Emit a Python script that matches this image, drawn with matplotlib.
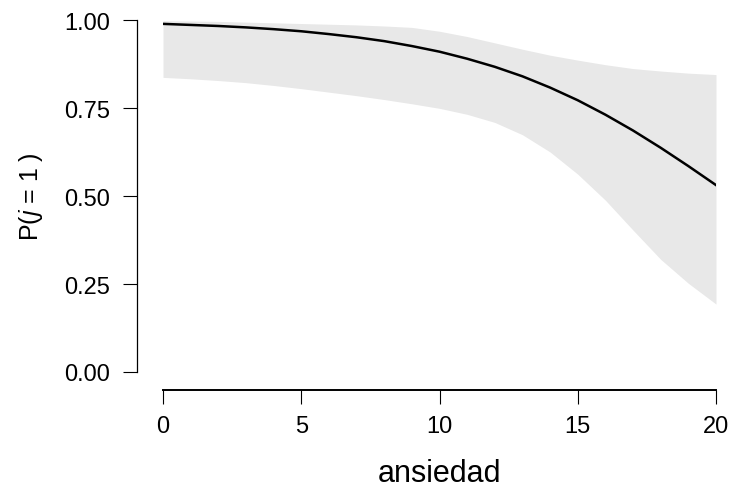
import matplotlib
matplotlib.use("Agg")
import matplotlib.pyplot as plt

plt.rcParams['font.family'] = ['Liberation Sans', 'DejaVu Sans']
plt.rcParams['mathtext.fontset'] = 'custom'
plt.rcParams['mathtext.rm'] = 'Liberation Sans'
plt.rcParams['mathtext.it'] = 'Liberation Sans:italic'

ansiedad = [0, 1, 2, 3, 4, 5, 6, 7, 8, 9, 10, 11, 12, 13, 14, 15, 16, 17, 18, 19, 20]
prob = [0.989, 0.986, 0.983, 0.979, 0.974, 0.968, 0.960, 0.951, 0.940, 0.926, 0.910,
        0.890, 0.867, 0.840, 0.808, 0.772, 0.731, 0.686, 0.637, 0.585, 0.531]
lower = [0.837, 0.833, 0.828, 0.822, 0.814, 0.805, 0.795, 0.785, 0.774, 0.762, 0.749,
         0.732, 0.709, 0.674, 0.625, 0.562, 0.488, 0.403, 0.320, 0.252, 0.193]
upper = [0.998, 0.997, 0.996, 0.994, 0.992, 0.990, 0.988, 0.986, 0.983, 0.979, 0.968,
         0.953, 0.935, 0.917, 0.900, 0.886, 0.873, 0.862, 0.855, 0.849, 0.845]
yticks = [0.0, 0.25, 0.5, 0.75, 1.0]
yticklabels = ['0.00', '0.25', '0.50', '0.75', '1.00']
xticks = [0, 5, 10, 15, 20]

fig = plt.figure(figsize=(7.3, 4.89), dpi=100)
ax = fig.add_axes([163/730, 1 - 373/489, (716-163)/730, (373-21)/489])

ax.fill_between(ansiedad, lower, upper, color='#e8e8e8', linewidth=0)
ax.plot(ansiedad, prob, color='black', linewidth=1.8)

ax.set_xlim(0, 20)
ax.set_ylim(0, 1)
ax.set_xticks(xticks)
ax.set_xticklabels([str(v) for v in xticks])
ax.set_yticks(yticks)
ax.set_yticklabels(yticklabels)

for s in ['top', 'right']:
    ax.spines[s].set_visible(False)
ax.spines['left'].set_position(('outward', 19.0))
ax.spines['bottom'].set_position(('outward', 13.0))
ax.spines['left'].set_linewidth(0.9)
ax.spines['bottom'].set_linewidth(1.4)
ax.spines['left'].set_bounds(0, 1)
ax.spines['bottom'].set_bounds(0, 20)

ax.tick_params(axis='both', length=10, width=0.8, labelsize=17, colors='black')
ax.tick_params(axis='y', pad=9)
ax.tick_params(axis='x', pad=8)

ax.set_xlabel('ansiedad', fontsize=22, labelpad=15)
ax.set_ylabel(r'P($\mathit{j}$ = $\mathit{1}$ )', fontsize=18, labelpad=14)

fig.savefig('out.png', dpi=100)
